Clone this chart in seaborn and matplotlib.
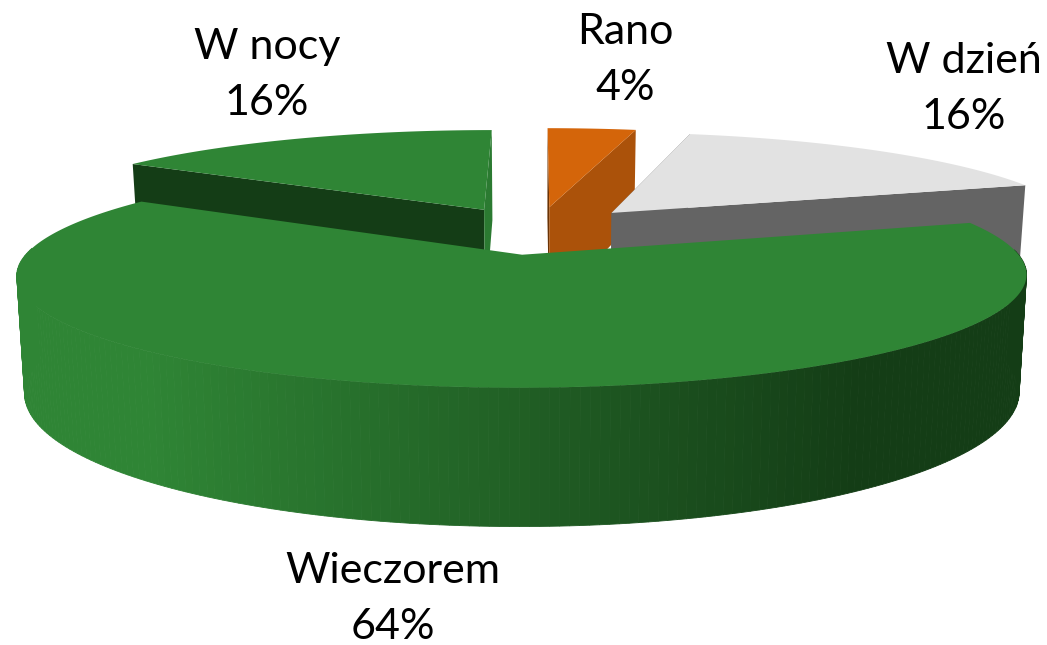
import numpy as np
import matplotlib
matplotlib.use("Agg")
import matplotlib.pyplot as plt
import seaborn as sns

labels = ["Rano", "W dzień", "Wieczorem", "W nocy"]
shares = [3.6, 16.4, 64.0, 16.0]
top_colors = ["#d4650a", "#e2e2e2", "#2f8535", "#2f8535"]
wall_colors = ["#ab520a", "#646464", "#143d16", "#143d16"]
first_edge_colors = ["#6b3305", "#646464", None, "#143d16"]
last_edge_colors = ["#ab520a", "#646464", None, "#2b7a31"]
label_xy = [(625, 60), (964, 89), (393, 599), (267, 75)]

sns.set_theme(style="white")
plt.rcParams["font.family"] = ["Lato", "DejaVu Sans"]

START = 90.0
CX, CY, A, B, K, D, EXPLODE, TAPER = 537.0, 230.0, 476.0, 100.0, 0.174, 109.0, 0.239, 0.015


def project(x, y, z=0.0):
    w = 1 + K * np.asarray(y)
    return CX + A * np.asarray(x) / w * (1 - TAPER * z), CY - B * np.asarray(y) / w + D * z / w


fig = plt.figure(figsize=(10.47, 6.45), dpi=100)
ax = fig.add_axes([0, 0, 1, 1])
ax.set_xlim(0, 1047)
ax.set_ylim(645, 0)
ax.axis("off")

edges = START - np.cumsum([0] + shares) * 3.6
wedges = []
for i in range(len(shares)):
    t = np.radians(np.linspace(edges[i], edges[i + 1], 240))
    mid = np.radians((edges[i] + edges[i + 1]) / 2)
    ox, oy = EXPLODE * np.cos(mid), EXPLODE * np.sin(mid)
    wedges.append((i, t, ox, oy))

top_rgb = [np.array(matplotlib.colors.to_rgb(c)) for c in top_colors]
wall_rgb = [np.array(matplotlib.colors.to_rgb(c)) for c in wall_colors]

# far wedges first, the big near wedge last
for i, t, ox, oy in sorted(wedges, key=lambda v: -v[3]):
    rim_x = ox + np.cos(t)
    rim_y = oy + np.sin(t)
    # straight side walls (the near wedge hides its own)
    for tt, col in ((t[0], first_edge_colors[i]), (t[-1], last_edge_colors[i])):
        if col is None:
            continue
        ex, ey = np.array([ox, ox + np.cos(tt)]), np.array([oy, oy + np.sin(tt)])
        x0, y0 = project(ex, ey, 0)
        x1, y1 = project(ex, ey, 1)
        ax.fill(np.r_[x0, x1[::-1]], np.r_[y0, y1[::-1]], color=col, lw=0, zorder=2 + i)
    # outer curved wall, only where it faces the viewer
    x0, y0 = project(rim_x, rim_y, 0)
    x1, y1 = project(rim_x, rim_y, 1)
    for j in range(len(t) - 1):
        if np.sin(t[j]) > 0.05:
            continue
        f = np.clip((x0[j] - 150) / 710, 0, 1)
        c = top_rgb[i] * (1 - f) + wall_rgb[i] * f
        ax.fill([x0[j], x0[j + 1], x1[j + 1], x1[j]], [y0[j], y0[j + 1], y1[j + 1], y1[j]],
                color=c, lw=0.6, zorder=2 + i)
    # top face
    px, py = project(np.r_[ox, rim_x], np.r_[oy, rim_y], 0)
    ax.fill(px, py, color=top_colors[i], lw=0, zorder=3 + i)

for lab, sh, (x, y) in zip(labels, shares, label_xy):
    ax.text(x, y, f"{lab}\n{round(sh)}%", ha="center", va="center", fontsize=31, color="black",
            linespacing=1.55, zorder=10)

fig.savefig("out.png", dpi=100, facecolor="white")
